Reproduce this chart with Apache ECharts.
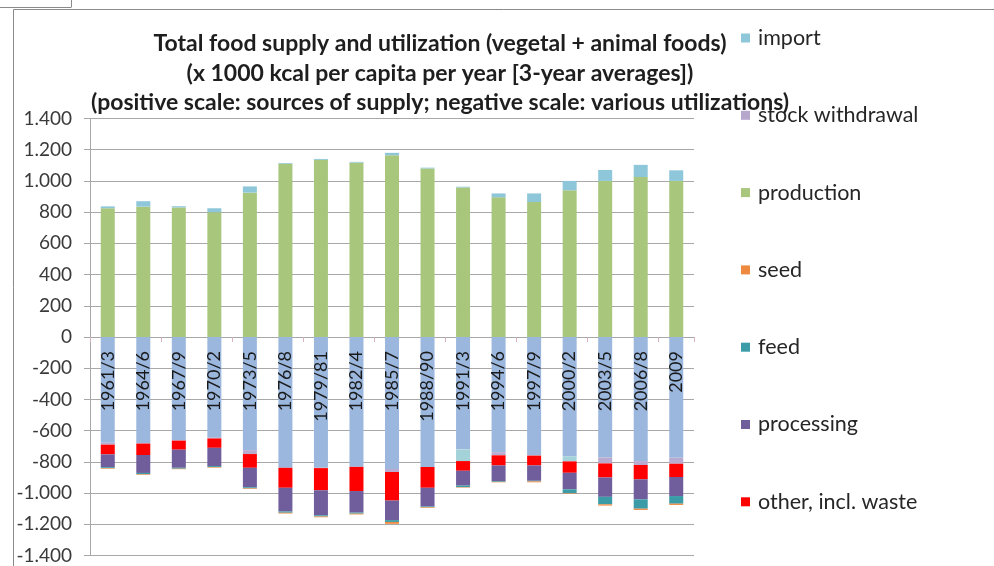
<!DOCTYPE html>
<html>
<head>
<meta charset="utf-8">
<script src="https://cdn.jsdelivr.net/npm/echarts@6/dist/echarts.min.js"></script>
<style>
  html, body { margin: 0; padding: 0; background: #ffffff; }
  #chart { width: 994px; height: 566px; }
</style>
</head>
<body>
<div id="chart"></div>
<script>
// Three-year averages, x 1000 kcal per capita per year
const categories = ['1961/3', '1964/6', '1967/9', '1970/2', '1973/5', '1976/8', '1979/81', '1982/4',
  '1985/7', '1988/90', '1991/3', '1994/6', '1997/9', '2000/2', '2003/5', '2006/8', '2009'];

// Sources of supply (positive scale)
const production      = [825, 835, 830, 800, 925, 1110, 1135, 1117, 1165, 1080, 958, 895, 865, 940, 1000, 1025, 1000];
const stockWithdrawal = [0, 0, 0, 0, 0, 0, 0, 0, 0, 0, 0, 0, 0, 0, 0, 0, 0];
const imports         = [12, 35, 8, 25, 40, 5, 6, 5, 15, 5, 5, 25, 55, 60, 70, 78, 68];

// Utilizations (negative scale)
const food          = [-678, -680, -660, -645, -725, -838, -838, -832, -845, -833, -720, -738, -760, -765, -772, -795, -774];
const stockAddition = [-12, -3, -4, -5, -25, 0, -2, 0, -20, 0, 0, -20, 0, 0, -38, -25, -38];
const exportsOut    = [0, 0, 0, 0, 0, 0, 0, 0, 0, 0, -75, 0, 0, -32, 0, 0, 0];
const otherWaste    = [-62, -73, -58, -60, -88, -128, -142, -155, -183, -133, -62, -65, -63, -73, -90, -92, -85];
const processing    = [-82, -115, -116, -117, -125, -152, -160, -138, -125, -120, -95, -100, -98, -106, -124, -128, -122];
const feed          = [-6, -8, -6, -6, -7, -8, -8, -7, -12, -5, -10, -5, -4, -24, -48, -60, -49];
const seed          = [-4, -4, -3, -4, -4, -5, -5, -5, -12, -4, -3, -3, -6, -3, -8, -8, -8];

const yTicks = { min: -1400, max: 1400, step: 200 };

const FONT = 'Lato, "Open Sans", sans-serif';

// Plot rectangle
const GRID = { left: 90, right: 300, top: 118.5, bottom: 10.5 };
const PLOT_H = 566 - GRID.top - GRID.bottom;
// Height of the positive half; the year labels hang just below the zero line
const UPPER_H = PLOT_H * (yTicks.max - 0) / (yTicks.max - yTicks.min);

function fmtThousands(v) {
  const s = Math.abs(v).toString().replace(/\B(?=(\d{3})+(?!\d))/g, '.');
  return (v < 0 ? '-' : '') + s;
}

function bar(name, data, color) {
  return {
    name: name,
    type: 'bar',
    stack: 'balance',
    barWidth: 14,
    data: data,
    itemStyle: { color: color },
    emphasis: { disabled: true }
  };
}

const chart = echarts.init(document.getElementById('chart'), null, { renderer: 'canvas' });

chart.setOption({
  backgroundColor: '#ffffff',
  animation: false,
  textStyle: { fontFamily: FONT },
  title: {
    text: 'Total food supply and utilization (vegetal + animal foods)\n' +
          '(x 1000 kcal per capita per year [3-year averages])\n' +
          '(positive scale: sources of supply; negative scale: various utilizations)',
    left: 440,
    top: 29,
    padding: 0,
    textAlign: 'center',
    textStyle: {
      fontFamily: FONT,
      fontSize: 23,
      fontWeight: 'bold',
      color: '#1e1e1e',
      lineHeight: 29.5
    }
  },
  legend: {
    orient: 'vertical',
    left: 741,
    top: 26,
    padding: 0,
    itemWidth: 9,
    itemHeight: 9,
    itemGap: 53.3,
    icon: 'rect',
    selectedMode: false,
    data: ['import', 'stock withdrawal', 'production', 'seed', 'feed', 'processing', 'other, incl. waste'],
    textStyle: {
      fontFamily: FONT,
      fontSize: 21.5,
      color: '#262626',
      lineHeight: 24,
      padding: [0, 0, 0, 3]
    }
  },
  grid: [
    Object.assign({ containLabel: false, outerBoundsMode: 'none' }, GRID),
    { left: GRID.left, right: GRID.right, top: GRID.top, height: UPPER_H, containLabel: false }
  ],
  xAxis: [
    {
      type: 'category',
      gridIndex: 0,
      data: categories,
      axisLine: { onZero: true, lineStyle: { color: '#a8a8a8', width: 1 } },
      axisTick: { show: true, length: 5, lineStyle: { color: '#d9b3bb' } },
      axisLabel: { show: false },
      splitLine: { show: false }
    },
    {
      type: 'category',
      gridIndex: 1,
      data: categories,
      position: 'bottom',
      z: 10,
      axisLine: { show: false },
      axisTick: { show: false },
      axisLabel: {
        rotate: 90,
        margin: 14,
        fontFamily: FONT,
        fontSize: 18,
        color: '#1a1a1a',
        interval: 0,
        overflow: 'none'
      },
      splitLine: { show: false }
    }
  ],
  yAxis: [
    {
      type: 'value',
      gridIndex: 0,
      min: yTicks.min,
      max: yTicks.max,
      interval: yTicks.step,
      axisLine: { show: true, lineStyle: { color: '#a8a8a8', width: 1 } },
      axisTick: { show: true, length: 6, lineStyle: { color: '#a8a8a8' } },
      axisLabel: {
        margin: 18,
        fontFamily: FONT,
        fontSize: 19,
        color: '#3a3a3a',
        formatter: fmtThousands
      },
      splitLine: { show: true, lineStyle: { color: '#a8a8a8', width: 1 } }
    },
    {
      type: 'value',
      gridIndex: 1,
      min: 0,
      max: yTicks.max,
      show: false
    }
  ],
  graphic: [
    { type: 'line', shape: { x1: 0, y1: 7.5, x2: 71, y2: 7.5 }, style: { stroke: '#8a8a8a', lineWidth: 1 } },
    { type: 'line', shape: { x1: 71.5, y1: 0, x2: 71.5, y2: 7.5 }, style: { stroke: '#8a8a8a', lineWidth: 1 } },
    { type: 'line', shape: { x1: 13.5, y1: 9.5, x2: 994, y2: 9.5 }, style: { stroke: '#8a8a8a', lineWidth: 1 } },
    { type: 'line', shape: { x1: 13.5, y1: 9.5, x2: 13.5, y2: 566 }, style: { stroke: '#8a8a8a', lineWidth: 1 } }
  ],
  series: [
    bar('food', food, '#9bb7dd'),
    bar('stock addition', stockAddition, '#b9abd0'),
    bar('export', exportsOut, '#a3d3d9'),
    bar('other, incl. waste', otherWaste, '#ff0000'),
    bar('processing', processing, '#6f5d9c'),
    bar('feed', feed, '#3b9ba6'),
    bar('seed', seed, '#ee8a3f'),
    bar('production', production, '#a8c67c'),
    bar('stock withdrawal', stockWithdrawal, '#b5a8cc'),
    bar('import', imports, '#8ec7d9')
  ]
});
</script>
</body>
</html>
